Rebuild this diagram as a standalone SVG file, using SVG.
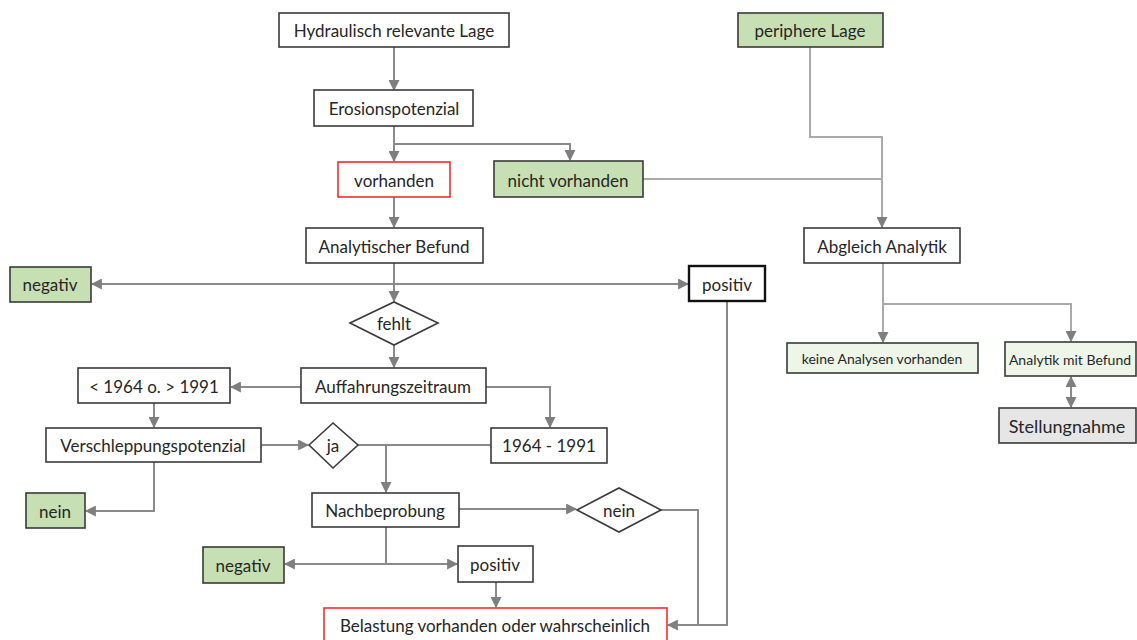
<svg xmlns="http://www.w3.org/2000/svg" width="1137" height="640" viewBox="0 0 1137 640">
<defs>
<marker id="ah" viewBox="0 0 10 10" refX="9" refY="5" markerWidth="5.5" markerHeight="5.5" orient="auto-start-reverse" markerUnits="strokeWidth">
<path d="M0,0 L10,5 L0,10 z" fill="#7f7f7f"/>
</marker>
<style>
.box{fill:#ffffff;stroke:#3a3a3a;stroke-width:1.6}
.red{fill:#ffffff;stroke:#ff2a2a;stroke-width:1.6}
.grn{fill:#c6e0b4;stroke:#3a3a3a;stroke-width:1.6}
.lgr{fill:#eef6ea;stroke:#3a3a3a;stroke-width:1.6}
.gry{fill:#e6e6e6;stroke:#3a3a3a;stroke-width:1.6}
.thk{fill:#ffffff;stroke:#111111;stroke-width:2.4}
text{font-family:Lato,"Open Sans","Liberation Sans",sans-serif;font-size:17px;fill:#262626;text-anchor:middle;dominant-baseline:central}
.sm{font-size:14px}
.lg{font-size:18px}
.c{fill:none;stroke:#8a8a8a;stroke-width:2}
.a{marker-end:url(#ah)}
.lc{fill:none;stroke:#aaaaaa;stroke-width:2}
</style>
</defs>
<g id="connectors">
<path class="c a" d="M394,47 V90"/>
<path class="c a" d="M394,126 V161"/>
<path class="c a" d="M394,144 H570 V160"/>
<path class="lc" d="M643,179 H882"/>
<path class="lc a" d="M810,47 V137 H882 V227"/>
<path class="c a" d="M394,197 V227"/>
<path class="c a" d="M394,263 V301"/>
<path class="c a" d="M394,284 H92"/>
<path class="c a" d="M394,284 H688"/>
<path class="c a" d="M394,345 V367"/>
<path class="c a" d="M301,387 H231"/>
<path class="c a" d="M486,387 H550 V427"/>
<path class="c a" d="M154,403 V427"/>
<path class="c a" d="M261,445 H308"/>
<path class="c a" d="M154,462 V511 H86"/>
<path class="c" d="M358,445 H491"/>
<path class="c a" d="M386,445 V492"/>
<path class="c a" d="M459,509 H576"/>
<path class="c" d="M386,527 V564"/>
<path class="c a" d="M386,564 H285"/>
<path class="c a" d="M386,564 H457"/>
<path class="c a" d="M496,582 V607"/>
<path class="c" d="M661,510 H698 V625"/>
<path class="c a" d="M727,301 V625 H668"/>
<path class="lc a" d="M883,263 V342"/>
<path class="lc a" d="M883,304 H1071 V341"/>
<path class="c a" style="marker-start:url(#ah)" d="M1071,377 V407"/>
</g>
<g id="hydraulisch"><rect class="box" x="279" y="13" width="230" height="34"/><text x="394" y="30">Hydraulisch relevante Lage</text></g>
<g id="periphere"><rect class="grn" x="738" y="13" width="145" height="34"/><text x="810" y="30">periphere Lage</text></g>
<g id="erosion"><rect class="box" x="314" y="90" width="159" height="36"/><text x="394" y="108">Erosionspotenzial</text></g>
<g id="vorhanden"><rect class="red" x="338" y="162" width="112" height="35"/><text x="394" y="180">vorhanden</text></g>
<g id="nichtvorhanden"><rect class="grn" x="494" y="161" width="149" height="36"/><text x="568" y="180">nicht vorhanden</text></g>
<g id="abgleich"><rect class="box" x="804" y="228" width="156" height="35"/><text x="882" y="246">Abgleich Analytik</text></g>
<g id="analytischer"><rect class="box" x="306" y="228" width="177" height="35"/><text x="394" y="246">Analytischer Befund</text></g>
<g id="negativ1"><rect class="grn" x="10" y="267" width="81" height="35"/><text x="50" y="284">negativ</text></g>
<g id="positiv1"><rect class="thk" x="689" y="266" width="76" height="35"/><text x="727" y="284">positiv</text></g>
<g id="fehlt"><polygon class="box" points="350,323 394,302 438,323 394,345"/><text x="394" y="323">fehlt</text></g>
<g id="keineanalysen"><rect class="lgr" x="787" y="343" width="191" height="30"/><text class="sm" x="882" y="358">keine Analysen vorhanden</text></g>
<g id="analytikmitbefund"><rect class="lgr" x="1005" y="342" width="131" height="34"/><text class="sm" x="1070" y="359">Analytik mit Befund</text></g>
<g id="stellungnahme"><rect class="gry" x="999" y="408" width="137" height="35"/><text class="lg" x="1067" y="426">Stellungnahme</text></g>
<g id="auffahrung"><rect class="box" x="301" y="368" width="185" height="35"/><text x="393" y="386">Auffahrungszeitraum</text></g>
<g id="vor1964"><rect class="box" x="78" y="368" width="152" height="35"/><text x="154" y="386">&lt; 1964 o. &gt; 1991</text></g>
<g id="zeitraum"><rect class="box" x="491" y="428" width="116" height="35"/><text x="549" y="445">1964 - 1991</text></g>
<g id="verschleppung"><rect class="box" x="46" y="428" width="215" height="34"/><text x="153" y="445">Verschleppungspotenzial</text></g>
<g id="ja"><polygon class="box" points="309,445 333,423 358,445 333,468"/><text x="333" y="445">ja</text></g>
<g id="nein1"><rect class="grn" x="26" y="493" width="59" height="35"/><text x="55" y="511">nein</text></g>
<g id="nachbeprobung"><rect class="box" x="312" y="493" width="147" height="34"/><text x="385" y="510">Nachbeprobung</text></g>
<g id="nein2"><polygon class="box" points="577,510 619,488 661,510 619,532"/><text x="619" y="510">nein</text></g>
<g id="negativ2"><rect class="grn" x="203" y="547" width="81" height="36"/><text x="243" y="565">negativ</text></g>
<g id="positiv2"><rect class="box" x="458" y="546" width="75" height="36"/><text x="495" y="564">positiv</text></g>
<g id="belastung"><rect class="red" x="324" y="608" width="343" height="40"/><text x="495" y="625">Belastung vorhanden oder wahrscheinlich</text></g>
</svg>
